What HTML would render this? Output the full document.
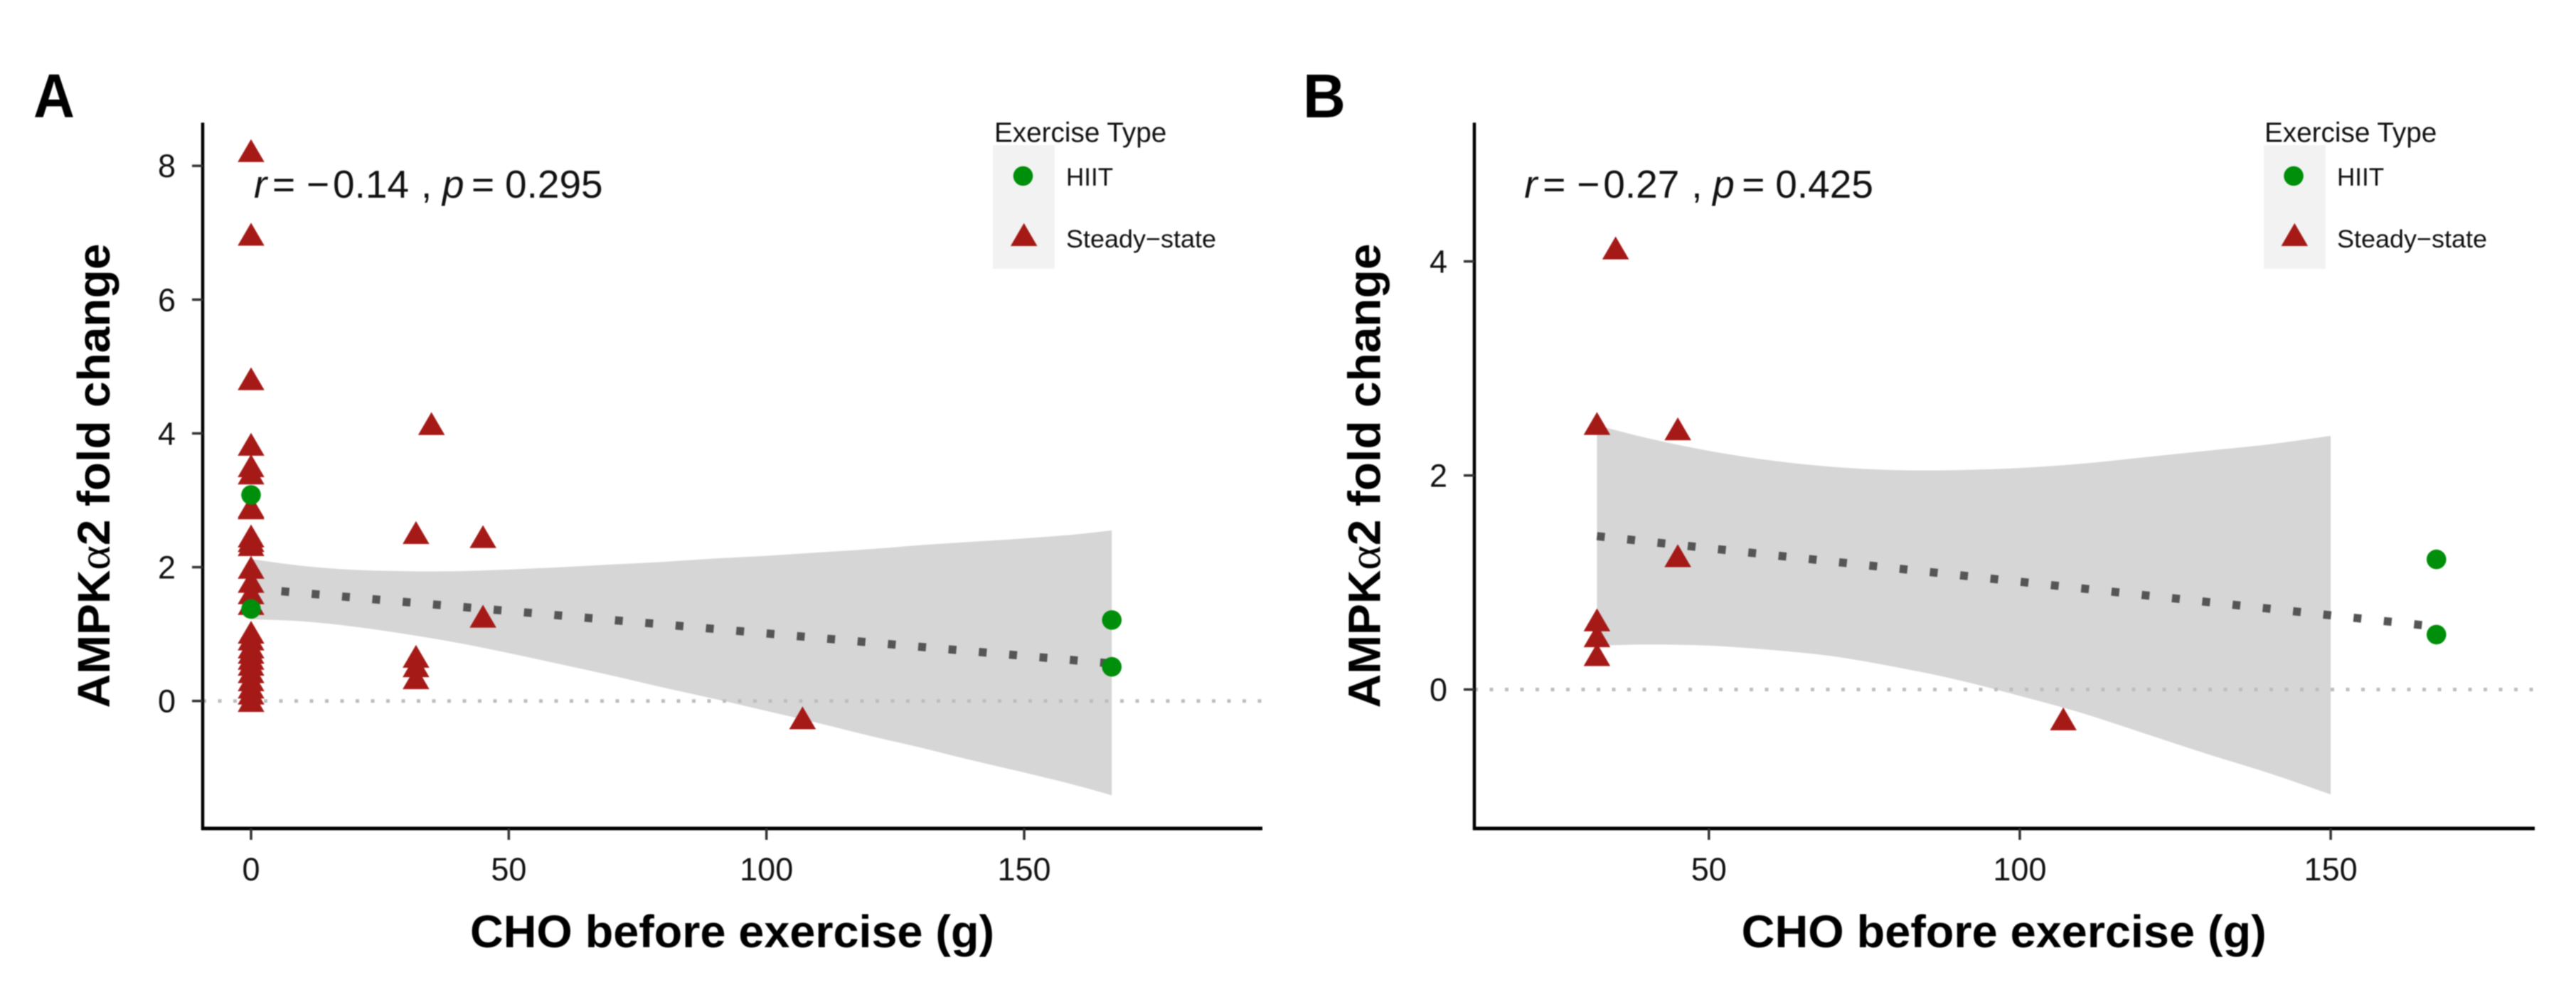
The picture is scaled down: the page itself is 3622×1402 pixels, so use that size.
<!DOCTYPE html>
<html lang="en">
<head>
<meta charset="utf-8">
<title>AMPK alpha 2 fold change vs CHO before exercise</title>
<style>
  html, body { margin: 0; padding: 0; background: #fff; width: 3622px; height: 1402px; overflow: hidden; }
  svg { display: block; filter: blur(0.7px); }
  text { font-family: "Liberation Sans", Arial, sans-serif; fill: #000; }
  .tick-label { font-size: 45px; fill: #111; }
  .axis-title { font-size: 64px; font-weight: bold; }
  .panel-tag { font-size: 87px; font-weight: bold; }
  .stat { font-size: 55px; fill: #111; }
  .legend-title { font-size: 38.7px; fill: #111; }
  .legend-label { font-size: 35px; fill: #111; }
</style>
</head>
<body>
<svg id="chart" xmlns="http://www.w3.org/2000/svg" width="3622" height="1402" viewBox="0 0 3622 1402">
  <rect x="0" y="0" width="3622" height="1402" fill="#fff"/>

  <g id="panel-a">
    <g id="a-marks"></g>
    <g id="a-axes"></g>
    <text class="panel-tag" x="47" y="165" textLength="58" lengthAdjust="spacingAndGlyphs">A</text>
    <text class="axis-title" transform="translate(154 995.5) rotate(-90)" textLength="653" lengthAdjust="spacingAndGlyphs">AMPK<tspan font-family="'Liberation Serif', serif" font-weight="normal">α</tspan>2 fold change</text>
    <text class="axis-title" x="661" y="1332" textLength="737" lengthAdjust="spacingAndGlyphs">CHO before exercise (g)</text>
    <text class="stat" y="278"><tspan x="357" font-style="italic">r</tspan><tspan x="383">=</tspan><tspan x="431">−</tspan><tspan x="468">0.14</tspan><tspan x="592">,</tspan><tspan x="622" font-style="italic">p</tspan><tspan x="663">=</tspan><tspan x="710">0.295</tspan></text>
    <g>
      <text class="legend-title" x="1398" y="199.3">Exercise Type</text>
      <rect x="1396" y="204" width="87" height="174" fill="#f2f2f2"/>
      <circle cx="1438.5" cy="247.5" r="13.8" fill="#008f0a"/>
      <polygon points="1439.7,313.7 1420.9,346 1458.5,346" fill="#a51a17"/>
      <text class="legend-label" x="1499" y="261">HIIT</text>
      <text class="legend-label" x="1499" y="348" textLength="211" lengthAdjust="spacingAndGlyphs">Steady−state</text>
    </g>
  </g>

  <g id="panel-b">
    <g id="b-marks"></g>
    <g id="b-axes"></g>
    <text class="panel-tag" x="1832" y="165" textLength="60" lengthAdjust="spacingAndGlyphs">B</text>
    <text class="axis-title" transform="translate(1940.6 995.5) rotate(-90)" textLength="653" lengthAdjust="spacingAndGlyphs">AMPK<tspan font-family="'Liberation Serif', serif" font-weight="normal">α</tspan>2 fold change</text>
    <text class="axis-title" x="2448.7" y="1332" textLength="738" lengthAdjust="spacingAndGlyphs">CHO before exercise (g)</text>
    <text class="stat" y="278"><tspan x="2143.3" font-style="italic">r</tspan><tspan x="2169.3">=</tspan><tspan x="2217.3">−</tspan><tspan x="2254.3">0.27</tspan><tspan x="2378.3">,</tspan><tspan x="2408.3" font-style="italic">p</tspan><tspan x="2449.3">=</tspan><tspan x="2496.3">0.425</tspan></text>
    <g>
      <text class="legend-title" x="3184" y="199.3">Exercise Type</text>
      <rect x="3183" y="204" width="87" height="174" fill="#f2f2f2"/>
      <circle cx="3225" cy="247.5" r="13.8" fill="#008f0a"/>
      <polygon points="3226.3,313.7 3207.5,346 3245.1,346" fill="#a51a17"/>
      <text class="legend-label" x="3286" y="261">HIIT</text>
      <text class="legend-label" x="3286" y="348" textLength="211" lengthAdjust="spacingAndGlyphs">Steady−state</text>
    </g>
  </g>
</svg>

<script>
// ---------- Panel A data ----------
const aSteadyX = [0,0,0,0,0,0,0,0,0,0,0,0,0,0,0,0,0,0,0,0,0,0,0,0,0,0,32,32,32,32,35,45,45,107];
const aSteadyY = [8.17,6.92,4.76,3.78,3.46,3.35,2.85,2.83,2.41,2.34,2.28,1.94,1.73,1.56,1.40,0.97,0.87,0.75,0.67,0.58,0.49,0.38,0.26,0.15,0.06,-0.05,2.46,0.61,0.47,0.29,4.09,2.40,1.21,-0.31];
const aHiitX = [0,0,167,167];
const aHiitY = [3.08,1.375,1.21,0.51];
const aFitX = [0,167];
const aFitY = [1.68,0.56];
const aBandX = [0,10,20,30,40,50,60,70,80,90,100,110,120,130,140,150,160,167];
const aBandUpper = [2.12,2.02,1.96,1.94,1.94,1.965,2.0,2.04,2.08,2.13,2.17,2.22,2.27,2.33,2.38,2.43,2.49,2.55];
const aBandLower = [1.22,1.19,1.11,1.0,0.87,0.715,0.55,0.38,0.2,0.03,-0.15,-0.33,-0.52,-0.70,-0.89,-1.07,-1.26,-1.41];
const aXTicks = [0,50,100,150];
const aYTicks = [0,2,4,6,8];

// ---------- Panel B data ----------
const bSteadyX = [32,32,32,32,35,45,45,107];
const bSteadyY = [2.45,0.615,0.466,0.29,4.09,2.40,1.215,-0.31];
const bHiitX = [167,167];
const bHiitY = [1.216,0.513];
const bFitX = [32,167];
const bFitY = [1.433,0.587];
const bBandX = [32,40,50,60,70,80,90,100,110,120,130,140,150];
const bBandUpper = [2.47,2.35,2.23,2.14,2.08,2.05,2.05,2.07,2.11,2.17,2.23,2.29,2.37];
const bBandLower = [0.41,0.42,0.41,0.37,0.31,0.21,0.09,-0.06,-0.22,-0.41,-0.60,-0.78,-0.98];
const bXTicks = [50,100,150];
const bYTicks = [0,2,4];

// ---------- Axis functions ----------
function xA(v) { return 353 + 7.247 * v; }
function yA(v) { return 985.7 - 94.06 * v; }
function xB(v) { return 2402.8 + 8.743 * (v - 50); }
function yB(v) { return 969.6 - 150.5 * v; }

const NS = 'http://www.w3.org/2000/svg';
function make(tag, attrs, parent) {
  const node = document.createElementNS(NS, tag);
  for (const k in attrs) node.setAttribute(k, attrs[k]);
  parent.appendChild(node);
  return node;
}

function smooth(pts) {
  let d = '';
  for (let i = 0; i < pts.length - 1; i++) {
    const p0 = pts[Math.max(i - 1, 0)], p1 = pts[i], p2 = pts[i + 1], p3 = pts[Math.min(i + 2, pts.length - 1)];
    const c1x = p1[0] + (p2[0] - p0[0]) / 6, c1y = p1[1] + (p2[1] - p0[1]) / 6;
    const c2x = p2[0] - (p3[0] - p1[0]) / 6, c2y = p2[1] - (p3[1] - p1[1]) / 6;
    d += ' C' + c1x.toFixed(1) + ' ' + c1y.toFixed(1) + ' ' + c2x.toFixed(1) + ' ' + c2y.toFixed(1) + ' ' + p2[0].toFixed(1) + ' ' + p2[1].toFixed(1);
  }
  return d;
}

function drawPanel(marks, axes, xf, yf, c) {
  // confidence band
  const up = c.bandX.map(function (v, i) { return [xf(v), yf(c.bandUpper[i])]; });
  const lo = c.bandX.map(function (v, i) { return [xf(v), yf(c.bandLower[i])]; }).reverse();
  const bandPath = 'M' + up[0][0].toFixed(1) + ' ' + up[0][1].toFixed(1) + smooth(up) +
                   ' L' + lo[0][0].toFixed(1) + ' ' + lo[0][1].toFixed(1) + smooth(lo) + ' Z';
  const band = make('path', { d: bandPath, fill: '#d6d6d6' }, marks);
  
  

  // zero reference line
  const zero = make('line', { x1: c.axisLeft, x2: c.axisRight, y1: yf(0), y2: yf(0), stroke: '#bdbdbd', 'stroke-width': 5, 'stroke-dasharray': '5 16.5' }, marks);
  
  

  // regression line
  const fit = make('line', { x1: xf(c.fitX[0]), y1: yf(c.fitY[0]), x2: xf(c.fitX[1]), y2: yf(c.fitY[1]), stroke: '#555', 'stroke-width': 11.5, 'stroke-dasharray': '11 31.8' }, marks);
  
  

  // steady-state triangles
  c.steadyX.forEach(function (v, i) {
    const px = xf(v), py = yf(c.steadyY[i]);
    const pts = px + ',' + (py - 21.5) + ' ' + (px - 18.8) + ',' + (py + 10.7) + ' ' + (px + 18.8) + ',' + (py + 10.7);
    const tri = make('polygon', { points: pts, fill: '#a51a17' }, marks);
    
    
  });

  // HIIT circles
  c.hiitX.forEach(function (v, i) {
    const dot = make('circle', { cx: xf(v), cy: yf(c.hiitY[i]), r: 13.8, fill: '#008f0a' }, marks);
    
    
  });

  // axis lines
  const yLine = make('line', { x1: c.axisLeft, x2: c.axisLeft, y1: 172.5, y2: 1167, stroke: '#000', 'stroke-width': 4.5 }, axes);
  
  
  const xLine = make('line', { x1: c.axisLeft - 2, x2: c.axisRight, y1: 1165, y2: 1165, stroke: '#000', 'stroke-width': 5 }, axes);
  
  

  // x ticks
  c.xTicks.forEach(function (v) {
    const t = make('line', { x1: xf(v), x2: xf(v), y1: 1165, y2: 1181, stroke: '#333', 'stroke-width': 3.5 }, axes);
    
    
    const l = make('text', { x: xf(v), y: 1238, 'text-anchor': 'middle', class: 'tick-label' }, axes);
    l.textContent = String(v);
    
    
  });

  // y ticks
  c.yTicks.forEach(function (v) {
    const t = make('line', { x1: c.axisLeft - 15, x2: c.axisLeft, y1: yf(v), y2: yf(v), stroke: '#333', 'stroke-width': 3.5 }, axes);
    
    
    const l = make('text', { x: c.axisLeft - 38, y: yf(v) + 16, 'text-anchor': 'end', class: 'tick-label' }, axes);
    l.textContent = String(v);
    
    
  });
}

drawPanel(document.getElementById('a-marks'), document.getElementById('a-axes'), xA, yA, {
  steadyX: aSteadyX, steadyY: aSteadyY, hiitX: aHiitX, hiitY: aHiitY,
  fitX: aFitX, fitY: aFitY, bandX: aBandX, bandUpper: aBandUpper, bandLower: aBandLower,
  xTicks: aXTicks, yTicks: aYTicks, axisLeft: 285, axisRight: 1775
});
drawPanel(document.getElementById('b-marks'), document.getElementById('b-axes'), xB, yB, {
  steadyX: bSteadyX, steadyY: bSteadyY, hiitX: bHiitX, hiitY: bHiitY,
  fitX: bFitX, fitY: bFitY, bandX: bBandX, bandUpper: bBandUpper, bandLower: bBandLower,
  xTicks: bXTicks, yTicks: bYTicks, axisLeft: 2073, axisRight: 3564
});
</script>
</body>
</html>
